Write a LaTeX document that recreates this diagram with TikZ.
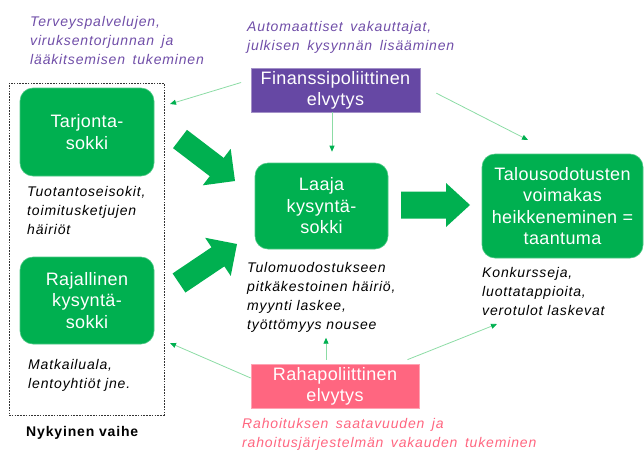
\documentclass[tikz,border=0pt]{standalone}
\usepackage{fontspec}
\setmainfont{Liberation Sans}
\usetikzlibrary{arrows.meta,calc}
\definecolor{gbox}{RGB}{0,176,80}
\definecolor{gline}{RGB}{140,220,165}
\definecolor{pbox}{RGB}{102,72,164}
\definecolor{ptext}{RGB}{112,78,168}
\definecolor{rbox}{RGB}{255,102,128}
\definecolor{rtext}{RGB}{255,102,128}
\newcommand{\widesp}{\spaceskip=7.5pt\relax}
\tikzset{
  greenbox/.style={draw=gbox!70!white, line width=0.6pt, fill=gbox, rounded corners=13pt, text=white, font=\fontsize{18}{21.5}\selectfont\addfontfeatures{LetterSpace=2}, align=center, inner sep=0pt},
  polbox/.style={draw=#1!60!white, line width=0.6pt, fill=#1, text=white, font=\fontsize{18}{21}\selectfont\addfontfeatures{LetterSpace=2}, align=center, inner sep=0pt},
  note/.style={anchor=north west, inner sep=0pt, align=left, font=\fontsize{14}{19}\selectfont\itshape\addfontfeatures{LetterSpace=6}},
  thinarrow/.style={draw=gline, line width=0.8pt, -{Triangle[length=6pt,width=5pt,color=gbox]}},
  dashbox/.style={draw=black!80, line width=0.7pt, dash pattern=on 1.6pt off 1.2pt, inner sep=0pt},
}
\newcommand{\blockarr}[5]{% from, to, shaft half, head half, head length
  \path (#1) coordinate (ba) (#2) coordinate (bb);
  \path ($(bb)!#5!(ba)$) coordinate (bh);
  \fill[gbox] ($(ba)!#3!90:(bb)$) -- ($(bh)!#3!90:(bb)$) -- ($(bh)!#4!90:(bb)$) -- (bb)
    -- ($(bh)!#4!-90:(bb)$) -- ($(bh)!#3!-90:(bb)$) -- ($(ba)!#3!-90:(bb)$) -- cycle;
}
\begin{document}
\begin{tikzpicture}[x=1pt,y=-1pt]
\useasboundingbox (0,0) rectangle (644,450);

% dashed frame
\node[dashbox, minimum width=155pt, minimum height=332pt] (cur) at (86.5,249) {};

% green boxes
\node[greenbox, minimum width=134pt, minimum height=88pt] (tar) at (87,132) {Tarjonta-\\sokki};
\node[greenbox, minimum width=134pt, minimum height=87pt] (raj) at (87,300.5) {Rajallinen\\kysyntä-\\sokki};
\node[greenbox, minimum width=133pt, minimum height=86pt] (laa) at (321.5,206) {Laaja\\kysyntä-\\sokki};
\node[greenbox, minimum width=161pt, minimum height=104pt] (tal) at (562.5,206) {Talousodotusten\\voimakas\\heikkeneminen =\\taantuma};

% policy boxes
\node[polbox=pbox, minimum width=169pt, minimum height=44pt] (fin) at (335.5,90) {Finanssipoliittinen\\elvytys};
\node[polbox=rbox, minimum width=168pt, minimum height=44pt] (rah) at (335,386) {Rahapoliittinen\\elvytys};

% notes
\node[note, text=ptext] (n1) at (30,16.5) {\widesp Terveyspalvelujen,\\\widesp viruksentorjunnan ja\\\widesp lääkitsemisen tukeminen};
\node[note, text=ptext] (n2) at (247,21.5) {\widesp Automaattiset vakauttajat,\\\widesp julkisen kysynnän lisääminen};
\node[note] (n3) at (27,186.5) {Tuotantoseisokit,\\toimitusketjujen\\häiriöt};
\node[note] (n4) at (28,359.5) {Matkailuala,\\lentoyhtiöt jne.};
\node[note] (n5) at (247,262.5) {Tulomuodostukseen\\pitkäkestoinen häiriö,\\myynti laskee,\\työttömyys nousee};
\node[note] (n6) at (482,267.5) {Konkursseja,\\luottatappioita,\\verotulot laskevat};
\node[note, text=rtext] (n7) at (242,418.5) {\widesp Rahoituksen saatavuuden ja\\\widesp rahoitusjärjestelmän vakauden tukeminen};
\node[anchor=north west, inner sep=0pt, font=\fontsize{14}{19}\selectfont\bfseries\addfontfeatures{LetterSpace=6}] (n8) at (26,426.5) {Nykyinen vaihe};

% free ends of thin arrows
\coordinate (tA) at (170,104);
\coordinate (tB) at (170,343);
\coordinate (tC) at (528,140);
\coordinate (tD) at (497,324);

% thin arrows
\draw[thinarrow, shorten <=10pt] (fin.173) -- (tA);
\draw[thinarrow] ([xshift=-3.5pt]fin.south) -- ([xshift=10.5pt,yshift=11pt]laa.north);
\draw[thinarrow, shorten <=18pt] ([yshift=5pt]fin.east) -- (tC);
\draw[thinarrow] ([yshift=8pt]rah.west) -- (tB);
\draw[thinarrow] ([xshift=-9pt,yshift=4pt]rah.north) -- ([xshift=-9pt,yshift=26pt]rah.north);
\draw[thinarrow, shorten <=11pt] ([xshift=-22pt]rah.north east) -- (tD);

% block arrows
\coordinate (b1s) at (180,139); \coordinate (b1e) at (235,181);
\coordinate (b2s) at (179,283); \coordinate (b2e) at (237,244);
\coordinate (b3s) at (401,205); \coordinate (b3e) at (470,205);
\blockarr{b1s}{b1e}{11.5pt}{23pt}{23pt}
\blockarr{b2s}{b2e}{11.5pt}{23pt}{23pt}
\blockarr{b3s}{b3e}{13.5pt}{22pt}{24pt}
\end{tikzpicture}
\end{document}
